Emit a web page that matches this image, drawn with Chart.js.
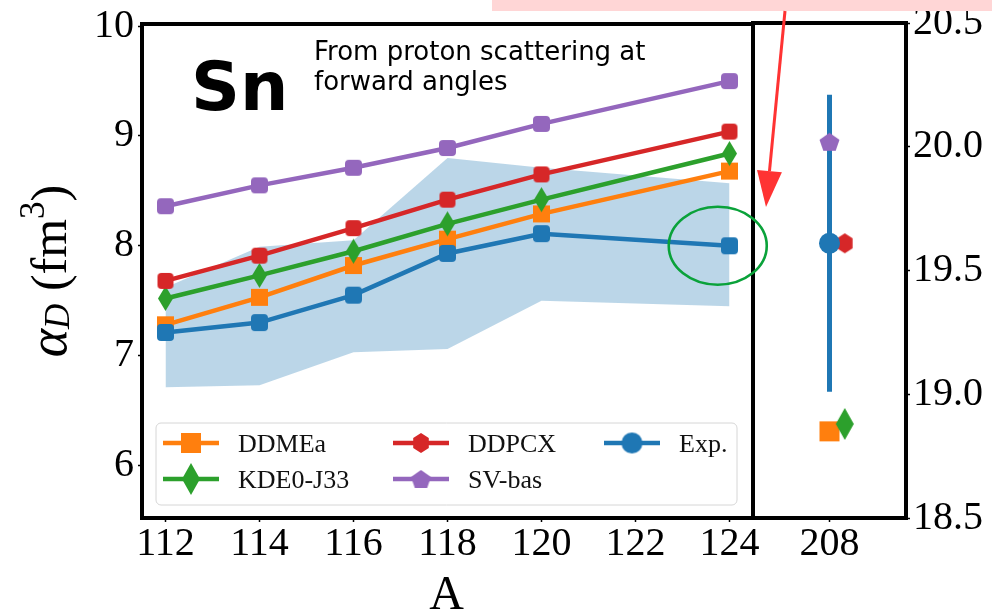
<!DOCTYPE html>
<html><head><meta charset="utf-8">
<script src="https://cdn.jsdelivr.net/npm/chart.js@4.4.0/dist/chart.umd.min.js"></script>
<style>
html,body{margin:0;padding:0;background:#fff;}
#wrap{position:relative;width:1002px;height:614px;overflow:hidden;background:#fff;}
#wrap canvas{position:absolute;left:0;top:0;}
</style></head><body>
<div id="wrap"><canvas id="c1" width="1002" height="614"></canvas><canvas id="c2" width="1002" height="614"></canvas></div>
<script>
// ---------- data (Sn isotopes, left panel) ----------
const A = [112, 114, 116, 118, 120, 124];
const xTicksSn = [112, 114, 116, 118, 120, 122, 124];
const yTicksSn = [6, 7, 8, 9, 10];
const ddmeaSn = [7.28, 7.53, 7.82, 8.06, 8.29, 8.68];
const kde0Sn  = [7.52, 7.73, 7.95, 8.20, 8.42, 8.84];
const ddpcxSn = [7.68, 7.91, 8.16, 8.42, 8.65, 9.04];
const svbasSn = [8.36, 8.55, 8.71, 8.89, 9.11, 9.50];
const expSn   = [7.21, 7.30, 7.55, 7.93, 8.11, 8.00];
const expSnLow  = [6.71, 6.73, 7.03, 7.06, 7.50, 7.45];
const expSnHigh = [7.62, 7.99, 8.05, 8.80, 8.71, 8.57];
// ---------- data (208Pb, right panel) ----------
const xTicksPb = [208];
const yTicksPb = [18.5, 19.0, 19.5, 20.0, 20.5];
const ddmeaPb = [18.85];
const kde0Pb  = [18.88];
const ddpcxPb = [19.61];
const svbasPb = [20.02];
const expPb   = [19.61];
const expPbErr = [0.60];

const C = {orange:'#ff7f0e', green:'#2ca02c', red:'#d62728', purple:'#9467bd', blue:'#1f77b4'};
const SERIF = "'Liberation Serif','Times New Roman',serif";
const SANS = "'DejaVu Sans',sans-serif";

function marker(shape, w, h, color){
  const c = document.createElement('canvas');
  c.width = Math.ceil(w) + 2; c.height = Math.ceil(h) + 2;
  const g = c.getContext('2d');
  g.fillStyle = color; g.translate(c.width/2, c.height/2);
  g.beginPath();
  if (shape === 'square') g.rect(-w/2, -h/2, w, h);
  else if (shape === 'rsquare') g.roundRect(-w/2, -h/2, w, h, 4);
  else if (shape === 'diamond') { g.moveTo(0,-h/2); g.lineTo(w/2,0); g.lineTo(0,h/2); g.lineTo(-w/2,0); g.closePath(); }
  else if (shape === 'hexagon' || shape === 'pentagon') {
    const n = shape === 'hexagon' ? 6 : 5;
    for (let k = 0; k < n; k++) {
      const a = -Math.PI/2 + k*2*Math.PI/n;
      const px = Math.cos(a)*w/2, py = Math.sin(a)*h/2 + (n===5 ? h*0.05 : 0);
      k ? g.lineTo(px,py) : g.moveTo(px,py);
    }
    g.closePath();
  } else if (shape === 'circle') g.arc(0,0,w/2,0,2*Math.PI);
  g.fill();
  return c;
}
const M = {
  sqS: marker('square',17,17,C.orange), diS: marker('diamond',15,25,C.green),
  rdS: marker('rsquare',16,16,C.red), puS: marker('rsquare',17,16,C.purple), blS: marker('rsquare',17,17,C.blue),
  sqL: marker('square',20,20,C.orange), diL: marker('diamond',18,32,C.green),
  hxL: marker('hexagon',18,20,C.red), pnL: marker('pentagon',21,20,C.purple), ciL: marker('circle',21,21,C.blue)
};

const pts = (xs, ys) => xs.map((x,i) => ({x:x, y:ys[i]}));

function lineDS(label, ys, color, style, legendMarker, order){
  return {label, data: pts(A, ys), borderColor: color, backgroundColor: color, borderWidth: 4.5,
    pointStyle: style, pointRadius: 9, pointHoverRadius: 9, pointBorderWidth: 0, tension: 0,
    fill: false, order, legendMarker};
}

function axisTicks(vals){ return s => { s.ticks = vals.map(v => ({value:v})); }; }

function frame(chart){
  const a = chart.chartArea, ctx = chart.ctx;
  ctx.save(); ctx.lineWidth = 4; ctx.strokeStyle = '#000';
  ctx.strokeRect(a.left, a.top, a.right - a.left, a.bottom - a.top);
  ctx.restore();
}

const legendOrder = ['DDMEa','KDE0-J33','DDPCX','SV-bas','Exp.'];

const snDeco = {
  id: 'snDeco',
  afterDraw(chart){
    const ctx = chart.ctx, a = chart.chartArea;
    frame(chart);
    // annotation texts
    ctx.save();
    ctx.fillStyle = '#000'; ctx.textBaseline = 'alphabetic'; ctx.textAlign = 'left';
    ctx.font = 'bold 68px ' + SANS;
    ctx.fillText('Sn', 191, 110);
    ctx.font = '26px ' + SANS;
    ctx.fillText('From proton scattering at', 314, 60);
    ctx.fillText('forward angles', 314, 90);
    // legend
    const bx = a.left + 14, by = a.top + 399, bw = 581, bh = 82;
    ctx.beginPath(); ctx.roundRect(bx, by, bw, bh, 5);
    ctx.fillStyle = 'rgba(255,255,255,0.8)'; ctx.fill();
    ctx.lineWidth = 1; ctx.strokeStyle = '#d6d6d6'; ctx.stroke();
    const colX = [7, 237, 448], rowY = [20, 56];
    const dsets = chart.data.datasets.filter(d => legendOrder.includes(d.label))
      .sort((p,q) => legendOrder.indexOf(p.label) - legendOrder.indexOf(q.label));
    ctx.font = '26px ' + SERIF;
    dsets.forEach((d, i) => {
      const x0 = bx + colX[Math.floor(i/2)], y0 = by + rowY[i%2];
      ctx.beginPath(); ctx.moveTo(x0, y0); ctx.lineTo(x0 + 56, y0);
      ctx.lineWidth = 4.5; ctx.strokeStyle = d.borderColor; ctx.stroke();
      const m = d.legendMarker;
      ctx.drawImage(m, x0 + 28 - m.width/2, y0 - m.height/2);
      ctx.fillStyle = '#111';
      ctx.fillText(d.label, x0 + 75, y0 + 9);
    });
    // y axis title: alpha_D (fm^3)
    ctx.translate(66, (a.top + a.bottom)/2 + 0);
    ctx.rotate(-Math.PI/2);
    const parts = [
      {t:'α', f:'italic 54px ' + SERIF, dy:0},
      {t:'D', f:'italic 35px ' + SERIF, dy:3},
      {t:' (fm', f:'50px ' + SERIF, dy:0},
      {t:'3', f:'35px ' + SERIF, dy:-22},
      {t:')', f:'50px ' + SERIF, dy:0}
    ];
    let tot = 0;
    parts.forEach(p => { ctx.font = p.f; p.w = ctx.measureText(p.t).width; tot += p.w; });
    let cx = -tot/2;
    ctx.fillStyle = '#000';
    parts.forEach(p => { ctx.font = p.f; ctx.fillText(p.t, cx, p.dy); cx += p.w; });
    ctx.restore();
    // x axis title
    ctx.save();
    ctx.font = '48px ' + SERIF; ctx.fillStyle = '#000'; ctx.textAlign = 'center';
    ctx.fillText('A', (a.left + a.right)/2 - 1, 609);
    ctx.restore();
  }
};

const tickFont = {family: SERIF, size: 40, lineHeight: 1};
const gridTicks = {display: true, drawOnChartArea: false, drawTicks: true, tickLength: 4, tickWidth: 1.5, tickColor: '#000'};

const chartSn = new Chart(document.getElementById('c1'), {
  type: 'line',
  data: { datasets: [
    lineDS('Exp.', expSn, C.blue, M.blS, M.ciL, 0),
    lineDS('SV-bas', svbasSn, C.purple, M.puS, M.pnL, 1),
    lineDS('DDPCX', ddpcxSn, C.red, M.rdS, M.hxL, 2),
    lineDS('KDE0-J33', kde0Sn, C.green, M.diS, M.diL, 3),
    lineDS('DDMEa', ddmeaSn, C.orange, M.sqS, M.sqL, 4),
    {label:'band-high', data: pts(A, expSnHigh), fill: '+1', backgroundColor: 'rgba(31,119,180,0.3)',
     borderWidth: 0, pointRadius: 0, tension: 0, order: 10},
    {label:'band-low', data: pts(A, expSnLow), fill: false, borderWidth: 0, pointRadius: 0, tension: 0, order: 11}
  ]},
  options: {
    responsive: false, animation: false, devicePixelRatio: 1,
    layout: {padding: {left: 0, right: 249, top: 23, bottom: 0}},
    plugins: {legend: {display: false}, tooltip: {enabled: false}, filler: {drawTime: 'beforeDatasetsDraw'}},
    scales: {
      x: {type: 'linear', min: 111.5, max: 124.5, afterBuildTicks: axisTicks(xTicksSn),
          afterFit: s => { s.height = 96; },
          grid: gridTicks, border: {display: false},
          ticks: {font: tickFont, color: '#000', padding: 2, maxRotation: 0, autoSkip: false, callback: v => String(v)}},
      y: {type: 'linear', min: 5.52, max: 10.02, afterBuildTicks: axisTicks(yTicksSn),
          afterFit: s => { s.width = 142; },
          grid: gridTicks, border: {display: false},
          ticks: {font: tickFont, color: '#000', padding: 4, callback: v => String(v)}}
    }
  },
  plugins: [snDeco]
});

const pbDeco = {
  id: 'pbDeco',
  afterDraw(chart){
    const ctx = chart.ctx;
    frame(chart);
    ctx.save();
    // pink banner at the top (cropped)
    ctx.fillStyle = '#ffd6d6';
    ctx.fillRect(492, 0, 500, 11);
    // green ellipse around the last Sn exp point
    const xs = chartSn.scales.x, ys = chartSn.scales.y;
    const ex = xs.getPixelForValue(A[A.length-1] - 0.25), ey = ys.getPixelForValue(expSn[expSn.length-1]);
    ctx.beginPath(); ctx.ellipse(ex, ey, 49, 39, 0, 0, 2*Math.PI);
    ctx.lineWidth = 2.6; ctx.strokeStyle = '#0aa23a'; ctx.stroke();
    // red arrow
    const x0 = 785, y0 = 11, x1 = 766, y1 = 207;
    const ang = Math.atan2(y1 - y0, x1 - x0), hl = 36, hw = 12.5;
    const bxp = x1 - hl*Math.cos(ang), byp = y1 - hl*Math.sin(ang);
    ctx.strokeStyle = '#ff3333'; ctx.fillStyle = '#ff3333'; ctx.lineWidth = 3;
    ctx.beginPath(); ctx.moveTo(x0, y0); ctx.lineTo(bxp, byp); ctx.stroke();
    ctx.beginPath(); ctx.moveTo(x1, y1);
    ctx.lineTo(bxp + hw*Math.sin(ang), byp - hw*Math.cos(ang));
    ctx.lineTo(bxp - hw*Math.sin(ang), byp + hw*Math.cos(ang));
    ctx.closePath(); ctx.fill();
    ctx.restore();
  }
};

const jitter = 0.1;
const single = (label, x, y, style, order, r) => ({label, data: [{x, y}], showLine: false,
  pointStyle: style, pointRadius: r || 10, pointHoverRadius: r || 10, pointBorderWidth: 0,
  backgroundColor: C.blue, borderColor: C.blue, order});

const chartPb = new Chart(document.getElementById('c2'), {
  type: 'line',
  data: { datasets: [
    {label:'Exp. err', data: [{x: xTicksPb[0], y: expPb[0] - expPbErr[0]}, {x: xTicksPb[0], y: expPb[0] + expPbErr[0]}],
     borderColor: C.blue, borderWidth: 5, pointRadius: 0, order: 6},
    single('DDMEa', xTicksPb[0], ddmeaPb[0], M.sqL, 5),
    single('KDE0-J33', xTicksPb[0] + jitter, kde0Pb[0], M.diL, 4),
    single('DDPCX', xTicksPb[0] + jitter, ddpcxPb[0], M.hxL, 3),
    single('SV-bas', xTicksPb[0], svbasPb[0], M.pnL, 2),
    single('Exp.', xTicksPb[0], expPb[0], 'circle', 1, 10.5)
  ]},
  options: {
    responsive: false, animation: false, devicePixelRatio: 1,
    layout: {padding: {left: 753, right: 0, top: 23, bottom: 0}},
    plugins: {legend: {display: false}, tooltip: {enabled: false}},
    scales: {
      x: {type: 'linear', min: 207.5, max: 208.5, afterBuildTicks: axisTicks(xTicksPb),
          afterFit: s => { s.height = 96; },
          grid: gridTicks, border: {display: false},
          ticks: {font: tickFont, color: '#000', padding: 2, maxRotation: 0, callback: v => String(v)}},
      y: {type: 'linear', position: 'right', min: 18.5, max: 20.5, afterBuildTicks: axisTicks(yTicksPb),
          afterFit: s => { s.width = 96; },
          grid: gridTicks, border: {display: false},
          ticks: {font: tickFont, color: '#000', padding: 3, callback: v => Number(v).toFixed(1)}}
    }
  },
  plugins: [pbDeco]
});
</script>
</body></html>
